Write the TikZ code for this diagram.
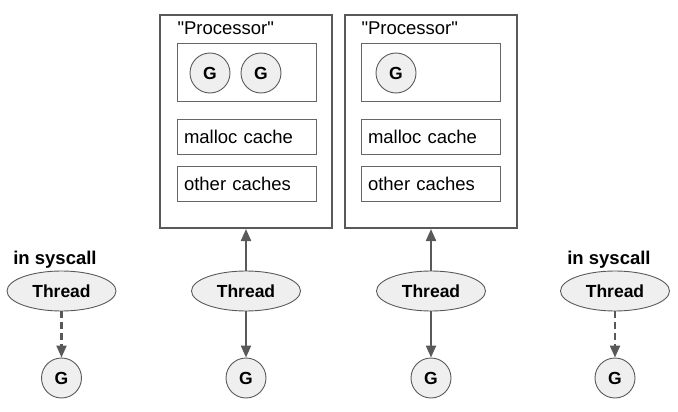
\documentclass[tikz,border=0pt]{standalone}
\usepackage{fontspec}
\setmainfont{Liberation Sans}[Ligatures=TeXOff]
\usetikzlibrary{arrows.meta,shapes.geometric}
\definecolor{edge}{HTML}{595959}
\definecolor{inner}{HTML}{666666}
\definecolor{gfill}{HTML}{EFEFEF}
\begin{document}
\begin{tikzpicture}[x=1pt,y=-1pt,
  txt/.style={font=\fontsize{18.5}{20}\selectfont},
  btxt/.style={font=\fontsize{17.5}{20}\selectfont\bfseries},
  procbox/.style={draw=edge,line width=2pt,minimum width=172pt,minimum height=213pt,inner sep=0pt},
  gbox/.style={draw=inner,line width=0.9pt,minimum width=139pt,minimum height=58pt,inner sep=0pt},
  cachebox/.style={draw=inner,line width=0.9pt,minimum width=139pt,minimum height=35pt,inner sep=0pt,
    txt,text width=125pt,align=left},
  gnode/.style={circle,draw=edge,line width=0.9pt,fill=gfill,minimum size=40pt,inner sep=0pt,btxt},
  thread/.style={ellipse,draw=edge,line width=0.9pt,fill=gfill,minimum width=109pt,minimum height=40pt,inner sep=0pt,btxt},
  conn/.style={draw=edge,line width=2.1pt,-{Triangle[length=12pt,width=10pt]}},
  dconn/.style={conn,dash pattern=on 7pt off 4pt},
  lbl/.style={btxt,font=\fontsize{18.5}{20}\selectfont\bfseries}
]
\useasboundingbox (0,0) rectangle (678,412);

% Processor 1
\node[procbox] (p1) at (246,121.5) {};
\node[txt,anchor=base west] (p1t) at (174,35) {"Processor"};
\node[gbox] (gb1) at (246.5,72) {};
\node[gnode] (g11) at (210,73) {G};
\node[gnode] (g12) at (261,73) {G};
\node[cachebox] (m1) at (246.5,136.5) {malloc cache};
\node[cachebox] (o1) at (246.5,183.5) {other caches};

% Processor 2
\node[procbox] (p2) at (430.5,121.5) {};
\node[txt,anchor=base west] (p2t) at (358,35) {"Processor"};
\node[gbox] (gb2) at (430.5,72) {};
\node[gnode] (g21) at (396,73) {G};
\node[cachebox] (m2) at (430.5,136.5) {malloc cache};
\node[cachebox] (o2) at (430.5,183.5) {other caches};

% Threads
\node[lbl] (s1) at (55,260) {in syscall};
\node[lbl] (s4) at (609,260) {in syscall};
\node[thread] (t1) at (61.5,291) {Thread};
\node[thread] (t2) at (246,291) {Thread};
\node[thread] (t3) at (431,291) {Thread};
\node[thread] (t4) at (615,291) {Thread};

% Bottom Gs
\node[gnode] (b1) at (61.5,378) {G};
\node[gnode] (b2) at (246,378) {G};
\node[gnode] (b3) at (431,378) {G};
\node[gnode] (b4) at (615,378) {G};

% Connectors
\draw[conn] (t2.north) -- (t2.north |- p1.south);
\draw[conn] (t3.north) -- (t3.north |- p2.south);
\draw[conn] (t2.south) -- (b2.north);
\draw[conn] (t3.south) -- (b3.north);
\draw[dconn] (t1.south) -- (b1.north);
\draw[dconn] (t4.south) -- (b4.north);
\end{tikzpicture}
\end{document}
